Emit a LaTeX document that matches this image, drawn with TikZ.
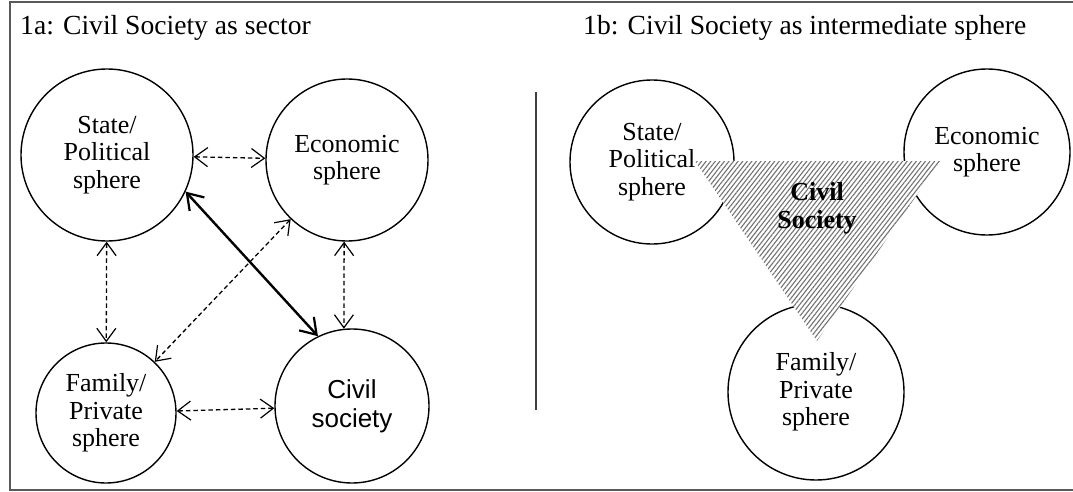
\documentclass[tikz,border=0pt]{standalone}
\usepackage{fontspec}
\setmainfont{Liberation Serif}
\newfontfamily\arialfont{Liberation Sans}
\usetikzlibrary{arrows.meta,patterns.meta}
\begin{document}
\begin{tikzpicture}[x=1pt,y=-1pt,
  sphere/.style={circle,draw,line width=1.4pt,inner sep=0pt,align=center,font=\fontsize{26}{27.5}\selectfont},
  link/.style={line width=1.3pt,dash pattern=on 4.5pt off 3pt,
    {Straight Barb[length=13pt,width=19pt,line width=1.2pt]}-{Straight Barb[length=13pt,width=19pt,line width=1.2pt]}},
  strong/.style={line width=2.4pt,
    {Straight Barb[length=15pt,width=20pt,line width=2.2pt]}-{Straight Barb[length=15pt,width=20pt,line width=2.2pt]}},
  title/.style={anchor=base west,inner sep=0pt,font=\fontsize{27.6}{30}\selectfont}
]
\useasboundingbox (0,0) rectangle (1073,492);
\draw[line width=1.6pt, black!65] (10,2) rectangle (1090,490);

\node[title] (t1) at (20,35) {1a: Civil Society as sector};
\node[title] (t2) at (583,35) {1b: Civil Society as intermediate sphere};

% left panel
\node[sphere,minimum size=172pt] (st) at (107,155) {State/\\Political\\sphere};
\node[sphere,minimum size=162pt] (ec) at (347,160) {Economic\\sphere};
\node[sphere,minimum size=140pt] (fa) at (106,413) {Family/\\Private\\sphere};
\node[sphere,minimum size=154pt,font=\arialfont\fontsize{26}{29}\selectfont] (cs) at (352,406) {Civil\\society};

\draw[link] (st) -- (ec);
\draw[link] (st) -- (fa);
\draw[link] (ec) -- (fa);
\draw[link] (ec.268) -- (cs.96);
\draw[link] (fa) -- (cs);
\draw[strong] (st.-25) -- (cs.116);

% divider
\coordinate (d1) at (536,92);
\coordinate (d2) at (536,410);
\draw[line width=1.4pt, black!75] (d1) -- (d2);

% right panel
\node[sphere,minimum size=164pt] (st2) at (652,162) {State/\\Political\\sphere};
\node[sphere,minimum size=166pt] (ec2) at (987,152) {Economic\\sphere};
\node[sphere,minimum size=176pt] (fa2) at (816,392) {Family/\\Private\\sphere};

\coordinate (ta) at (695,161);
\coordinate (tb) at (940,161);
\coordinate (tc) at (817,341);
\fill[white] (ta) -- (tb) -- (tc) -- cycle;
\path[pattern={Lines[angle=52,distance=3.6pt,line width=1.1pt]},pattern color=black!55] (ta) -- (tb) -- (tc) -- cycle;
\node[font=\bfseries\fontsize{26}{28}\selectfont,align=center,inner sep=0pt] (cs2) at (817,208) {Civil\\Society};
\end{tikzpicture}
\end{document}
